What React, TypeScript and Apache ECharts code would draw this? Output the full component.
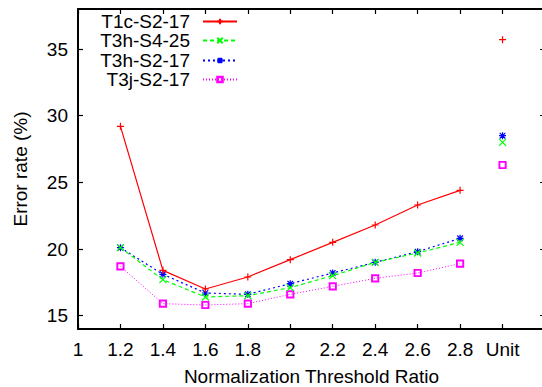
import React, { useEffect, useRef } from "react";
import * as echarts from "echarts";

const categories = ["1", "1.2", "1.4", "1.6", "1.8", "2", "2.2", "2.4", "2.6", "2.8", "Unit", ""];
const yTicks = [15, 20, 25, 30, 35];
const seriesNames = ["T1c-S2-17", "T3h-S4-25", "T3h-S2-17", "T3j-S2-17"];
// values at 1.2 ... 2.8
const t1cS217 = [29.2, 18.4, 17.0, 17.9, 19.2, 20.5, 21.8, 23.3, 24.4];
const t3hS425 = [20.1, 17.7, 16.4, 16.5, 17.1, 18.0, 19.0, 19.7, 20.5];
const t3hS217 = [20.1, 18.1, 16.7, 16.6, 17.4, 18.2, 19.0, 19.8, 20.8];
const t3jS217 = [18.7, 15.9, 15.8, 15.9, 16.6, 17.2, 17.8, 18.2, 18.9];
// values at "Unit"
const unitValues = [35.7, 28.0, 28.5, 26.3];

const colors = ["#ff0000", "#00ff00", "#0000ff", "#ff00ff"];
const dashes: any[] = ["solid", [4, 3], [2, 3], [1, 2]];
const symbols = [
  "path://M0,5 L10,5 M5,0 L5,10",
  "path://M0,0 L10,10 M10,0 L0,10",
  "path://M0,5 L10,5 M5,0 L5,10 M1,1 L9,9 M9,1 L1,9",
  "path://M0,0 L10,0 L10,10 L0,10 Z M1,1 L1,9 L9,9 L9,1 Z",
];
const lineData = [t1cS217, t3hS425, t3hS217, t3jS217];

const FONT = "Liberation Sans, Arial, sans-serif";

export default function App() {
  const ref = useRef<HTMLDivElement>(null);
  useEffect(() => {
    const chart = echarts.init(ref.current!, null, { renderer: "svg" });
    const series: any[] = [];
    lineData.forEach((vals, i) => {
      series.push({
        type: "line",
        name: seriesNames[i],
        data: [null, ...vals, null, null],
        symbol: symbols[i],
        symbolSize: 7,
        showAllSymbol: true,
        lineStyle: { color: colors[i], width: i === 3 ? 1 : 1.2, type: dashes[i] },
        itemStyle: { color: "rgba(0,0,0,0)", borderColor: colors[i], borderWidth: 1.2 },
        z: 10 - i,
      });
    });
    unitValues.forEach((v, i) => {
      const d: any[] = categories.map(() => null);
      d[10] = v;
      series.push({
        type: "line",
        name: seriesNames[i],
        data: d,
        symbol: symbols[i],
        symbolSize: 7,
        lineStyle: { color: colors[i], width: 1, type: dashes[i] },
        itemStyle: { color: "rgba(0,0,0,0)", borderColor: colors[i], borderWidth: 1.2 },
      });
    });
    const legendTops = [12, 31, 51, 70];
    const legends = seriesNames.map((n, i) => ({
      data: [n],
      orient: "horizontal",
      align: "right",
      right: 304,
      top: legendTops[i],
      itemWidth: 34,
      itemHeight: 7,
      padding: 0,
      selectedMode: false,
      textStyle: { fontFamily: FONT, fontSize: 19, color: "#000", padding: [0, 8, 0, 0] },
    }));
    const axisCommon = {
      axisLine: { show: true, lineStyle: { color: "#000", width: 2 } },
      axisTick: { show: true, inside: true, length: 5, lineStyle: { color: "#000", width: 1.2 } },
      splitLine: { show: false },
    };
    chart.setOption({
      animation: false,
      backgroundColor: "#fff",
      grid: { left: 78, right: -3, top: 9, bottom: 58, containLabel: false, outerBoundsMode: "none" },
      legend: legends,
      xAxis: [
        {
          type: "category",
          data: categories,
          boundaryGap: false,
          position: "bottom",
          name: "Normalization Threshold Ratio",
          nameLocation: "middle",
          nameGap: 38,
          nameTextStyle: { fontFamily: FONT, fontSize: 19, lineHeight: 19, color: "#000" },
          ...axisCommon,
          axisTick: { ...axisCommon.axisTick, interval: 0 },
          axisLabel: { interval: 0, fontFamily: FONT, fontSize: 19, color: "#000", margin: 11 },
        },
        {
          type: "category",
          data: categories,
          boundaryGap: false,
          position: "top",
          ...axisCommon,
          axisTick: { ...axisCommon.axisTick, interval: 0 },
          axisLabel: { show: false },
        },
      ],
      yAxis: [
        {
          type: "value",
          min: 14,
          max: 38,
          position: "left",
          name: "Error rate (%)",
          nameLocation: "middle",
          nameRotate: 90,
          nameGap: 48,
          nameTextStyle: { fontFamily: FONT, fontSize: 19, color: "#000" },
          ...axisCommon,
          axisTick: { ...axisCommon.axisTick, customValues: yTicks },
          axisLabel: { customValues: yTicks, fontFamily: FONT, fontSize: 19, color: "#000", margin: 10 },
        },
        {
          type: "value",
          min: 14,
          max: 38,
          position: "right",
          ...axisCommon,
          axisTick: { ...axisCommon.axisTick, customValues: yTicks },
          axisLabel: { show: false },
        },
      ],
      series,
    });
    return () => chart.dispose();
  }, []);
  return (
    <div
      ref={ref}
      style={{ position: "fixed", left: 0, top: 0, width: 542, height: 387 }}
    />
  );
}
